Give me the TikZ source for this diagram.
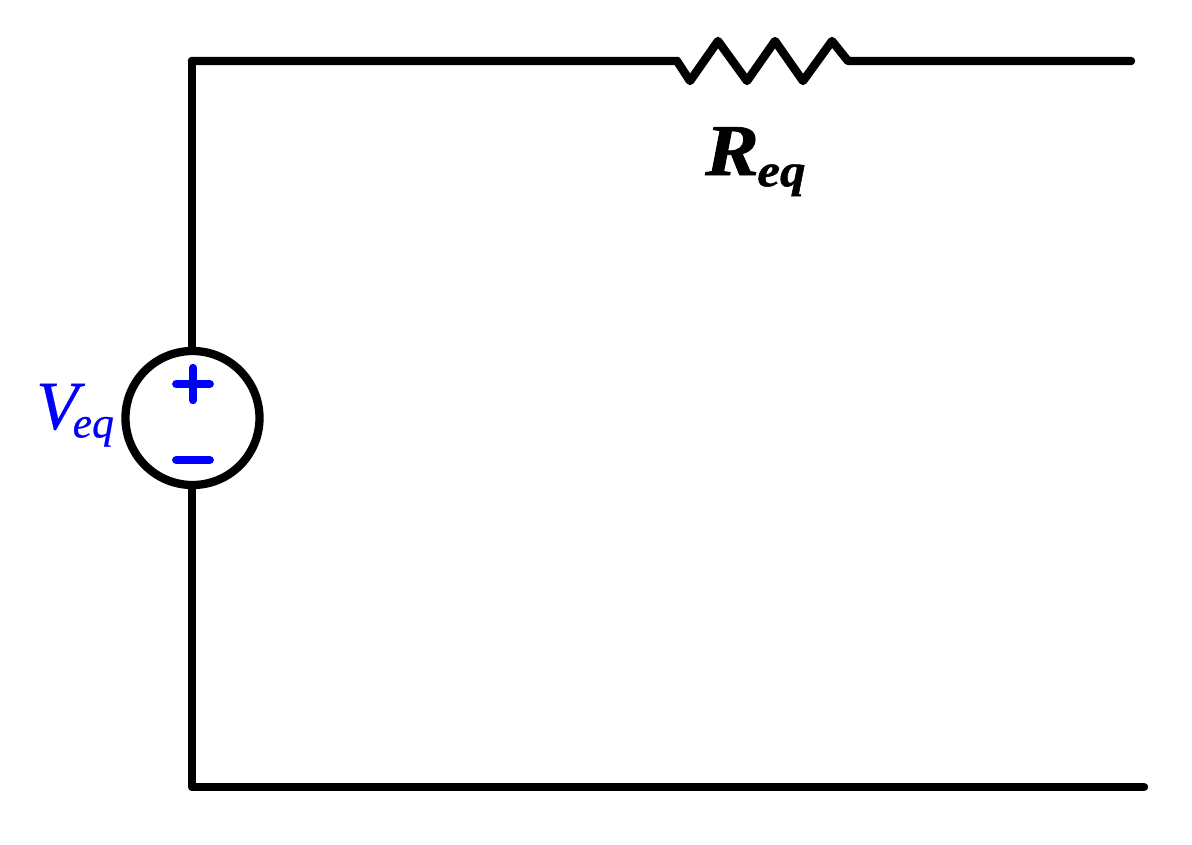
\documentclass[tikz,border=0pt]{standalone}
\usepackage{fontspec}
\setmainfont{Liberation Serif}
\definecolor{srcblue}{RGB}{0,0,255}
\tikzset{
  wire/.style={line width=6pt, line cap=round, line join=round, color=black},
  sign/.style={line width=5.7pt, line cap=round, color=srcblue},
  source/.style={circle, draw, line width=5.9pt, minimum size=134*0.7113pt, inner sep=0pt},
}
\begin{document}
\begin{tikzpicture}[x=0.025cm, y=-0.025cm]

    % canvas
    \useasboundingbox (0,0) rectangle (1192,844);

    % corners and wire ends
    \coordinate (topleft) at (192,61);
    \coordinate (botleft) at (192,787);
    \coordinate (topright) at (1131,61);
    \coordinate (botright) at (1144,787);

    % voltage source
    \node[source] (src) at (192.5,418) {};
    \draw[wire] (src.north -| topleft) -- (topleft);
    \draw[wire] (src.south -| botleft) -- (botleft) -- (botright);

    % polarity signs
    \coordinate (plusc) at (193,384);
    \coordinate (minusc) at (193,460);
    \draw[sign] ([xshift=-12pt]plusc) -- ([xshift=12pt]plusc);
    \draw[sign] ([yshift=11.5pt]plusc) -- ([yshift=-11.5pt]plusc);
    \draw[sign] ([xshift=-12pt]minusc) -- ([xshift=12pt]minusc);

    % resistor
    \coordinate (resin) at (677,61);
    \coordinate (resout) at (848,61);
    \draw[wire] (topleft) -- (resin) -- (690,81) -- (718,41) -- (747,81) -- (775,41) -- (803,81) -- (832,41) -- (resout) -- (topright);

    % labels
    \node[anchor=base west, inner sep=0pt, font=\bfseries\itshape\fontsize{52}{52}\selectfont] (req) at (705,175)
        {\addfontfeature{FakeBold=1}\scalebox{1.1}[1]{R\kern-1pt\raisebox{-8pt}{\fontsize{33}{33}\selectfont eq}}};
    \node[anchor=base west, inner sep=0pt, text=srcblue, font=\itshape\fontsize{49}{49}\selectfont] (veq) at (36,429)
        {\addfontfeature{FakeBold=0.5}V\kern-4pt\raisebox{-6pt}{\fontsize{31}{31}\selectfont eq}};

\end{tikzpicture}
\end{document}
